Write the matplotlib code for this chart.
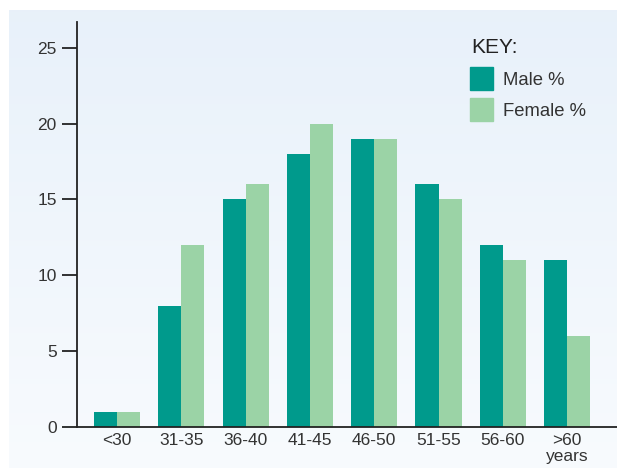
import numpy as np
import matplotlib.pyplot as plt
from matplotlib.patches import Rectangle

# Age groups and percentages
age_groups = ['<30', '31-35', '36-40', '41-45', '46-50', '51-55', '56-60', '>60\nyears']
male_pct = [1, 8, 15, 18, 19, 16, 12, 11]
female_pct = [1, 12, 16, 20, 19, 15, 11, 6]
y_ticks = [0, 5, 10, 15, 20, 25]
series_names = ['Male %', 'Female %']

male_color = '#009a8c'
female_color = '#9bd3a6'
text_color = '#333333'

plt.rcParams['font.family'] = ['Liberation Sans', 'DejaVu Sans']

W, H = 617, 468
fig = plt.figure(figsize=(W / 100, H / 100), dpi=100, facecolor='white')

# light blue gradient panel behind the chart
bg = fig.add_axes([9 / W, 0, 1 - 9 / W, 1 - 10 / H], zorder=-1)
grad = np.linspace(0, 1, 256).reshape(-1, 1)
top = np.array([0.910, 0.945, 0.980])
bot = np.array([0.972, 0.984, 0.996])
img = top + (bot - top) * grad[:, :, None]
bg.imshow(img, aspect='auto', extent=[0, 1, 0, 1])
bg.set_axis_off()

x0, x1 = 77, 617
y0, y1 = 427, 22
ax = fig.add_axes([x0 / W, 1 - y0 / H, (x1 - x0) / W, (y0 - y1) / H])
ax.set_facecolor('none')

x = np.arange(len(age_groups))
w = 0.358
ax.bar(x - w / 2, male_pct, w, color=male_color)
ax.bar(x + w / 2, female_pct, w, color=female_color)

ax.set_xlim(-0.622, 7.776)
ax.set_ylim(0, 26.7)
ax.set_yticks(y_ticks)
ax.set_xticks(x)
ax.set_xticklabels(age_groups, linespacing=1.15)

for s in ['top', 'right']:
    ax.spines[s].set_visible(False)
for s in ['left', 'bottom']:
    ax.spines[s].set_color('#222222')
    ax.spines[s].set_linewidth(1.3)

ax.tick_params(axis='y', length=11, width=1.3, color='#222222', pad=3.5,
               labelsize=12.5, labelcolor=text_color)
ax.tick_params(axis='x', length=0, pad=4, labelsize=12.5, labelcolor=text_color)

# key, placed by pixel position
def px(xp, yp):
    return xp / W, 1 - yp / H

fig.text(*px(471, 53), 'KEY:', fontsize=15, color='#222222', va='baseline')
for i, (name, col) in enumerate(zip(series_names, [male_color, female_color])):
    ytop = 67 + 31 * i
    fig.patches.append(Rectangle(px(470, ytop + 23), 23 / W, 23 / H,
                                 transform=fig.transFigure, color=col))
    fig.text(*px(503, ytop + 18), name, fontsize=13.3, color=text_color,
             va='baseline')

fig.savefig('out.png', dpi=100)
